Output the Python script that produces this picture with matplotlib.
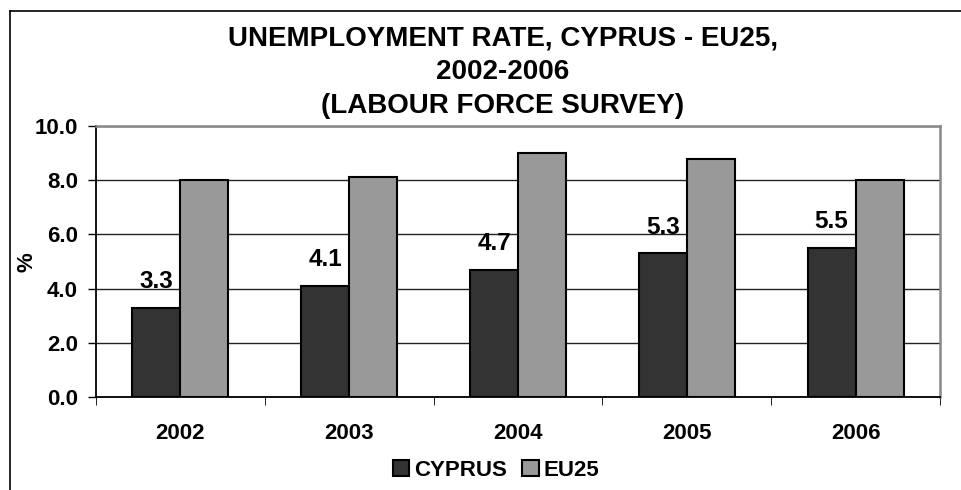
import matplotlib
matplotlib.use("Agg")
import matplotlib.pyplot as plt
import numpy as np

plt.rcParams['font.family'] = ['Liberation Sans', 'DejaVu Sans']
plt.rcParams['font.weight'] = 'bold'

years = ["2002", "2003", "2004", "2005", "2006"]
cyprus = [3.3, 4.1, 4.7, 5.3, 5.5]
eu25 = [8.0, 8.1, 9.0, 8.8, 8.0]
title_lines = ["UNEMPLOYMENT RATE, CYPRUS - EU25,", "2002-2006", "(LABOUR FORCE SURVEY)"]

W, H = 962, 490
fig = plt.figure(figsize=(W / 100, H / 100), dpi=100)
ax = fig.add_axes([96 / W, 1 - 397 / H, 844 / W, 271 / H])

x = np.arange(len(years))
w = 0.284
b1 = ax.bar(x - w / 2, cyprus, w, color="#333333", edgecolor="black", linewidth=1.5, label="CYPRUS", zorder=3)
b2 = ax.bar(x + w / 2, eu25, w, color="#999999", edgecolor="black", linewidth=1.5, label="EU25", zorder=3)

for xi, v in zip(x, cyprus):
    ax.text(xi - w / 2, v + 0.72, f"{v:.1f}", ha="center", va="baseline", fontsize=17.5, fontweight="bold")

ax.set_xlim(-0.5, len(years) - 0.5)
ax.set_ylim(0, 10)
yt = np.arange(0, 10.1, 2)
ax.set_yticks(yt)
ax.set_yticklabels([f"{t:.1f}" for t in yt], fontsize=16, fontweight="bold")
ax.yaxis.grid(True, color="#222222", linewidth=1, zorder=0)

# years at category centres, tick marks on the boundaries
ax.set_xticks(x)
ax.set_xticklabels(years, fontsize=16, fontweight="bold")
ax.tick_params(axis="x", length=0, pad=19)
ax.set_xticks(np.arange(-0.5, len(years)), minor=True)
ax.tick_params(axis="x", which="minor", length=6, color="black")
ax.tick_params(axis="y", length=6, color="black", width=1, pad=7)

for side in ("left", "bottom"):
    ax.spines[side].set_color("black")
    ax.spines[side].set_linewidth(1.3)
for side in ("top", "right"):
    ax.spines[side].set_color("#888888")
    ax.spines[side].set_linewidth(1.8)

fig.text(27 / W, 1 - 262 / H, "%", rotation=90, ha="center", va="center", fontsize=16, fontweight="bold")

for line, base in zip(title_lines, [46, 79, 113]):
    fig.text(503 / W, 1 - base / H, line, ha="center", va="baseline", fontsize=20, fontweight="bold")

fig.legend(handles=[b1, b2], loc="center", bbox_to_anchor=(496 / W, 1 - 470 / H), ncol=2, frameon=False,
           fontsize=16, handlelength=0.75, handleheight=0.75, handletextpad=0.2, columnspacing=0.7,
           borderpad=0, borderaxespad=0)

# chart frame drawn on the left and top only
fig.add_artist(plt.Line2D([9.5 / W, 9.5 / W], [0, 1 - 11 / H], transform=fig.transFigure, color="black", linewidth=1.2))
fig.add_artist(plt.Line2D([9.5 / W, 1.0], [1 - 11 / H, 1 - 11 / H], transform=fig.transFigure, color="black", linewidth=1.2))

fig.savefig("out.png", dpi=100)
